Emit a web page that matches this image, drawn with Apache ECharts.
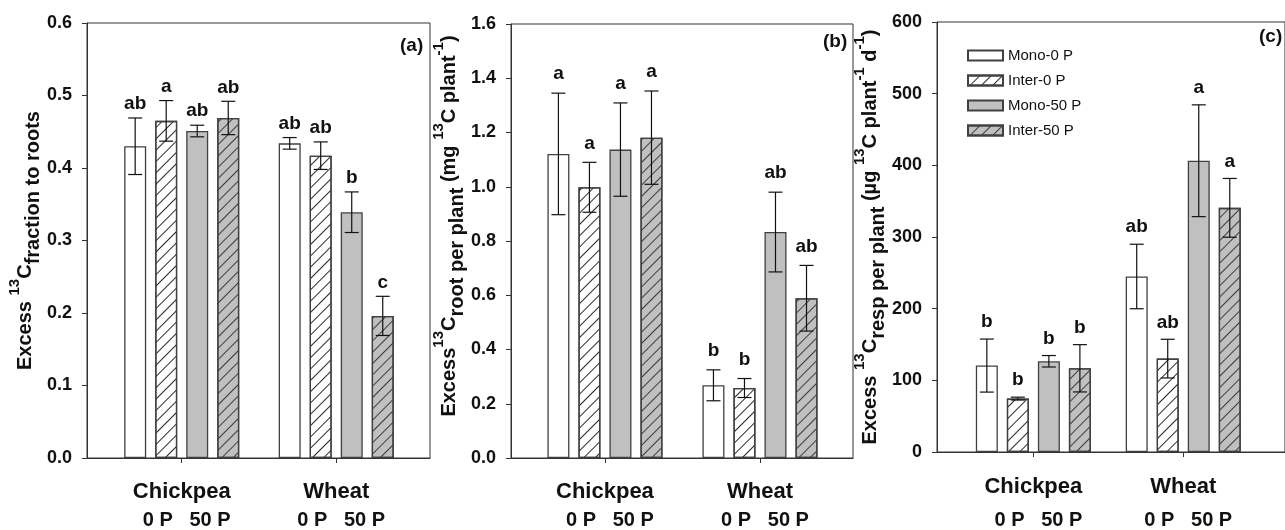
<!DOCTYPE html>
<html><head><meta charset="utf-8">
<script src="https://cdn.jsdelivr.net/npm/echarts@6/dist/echarts.min.js"></script>
<style>html,body{margin:0;padding:0;background:#fff}#c{width:1285px;height:530px}</style>
</head><body><div id="c"></div>
<script>
// ---------- data ----------
const categories = ['Chickpea', 'Wheat'];
const subLabel = '0 P   50 P';
const seriesNames = ['Mono-0 P', 'Inter-0 P', 'Mono-50 P', 'Inter-50 P'];
const panelTags = ['(a)', '(b)', '(c)'];

// (a) Excess 13C fraction to roots; rows = series, cols = [Chickpea, Wheat]
const fracMean = [[0.430, 0.434], [0.465, 0.417], [0.451, 0.339], [0.469, 0.196]];
const fracErr = [[0.039, 0.008], [0.028, 0.019], [0.008, 0.028], [0.023, 0.027]];
const fracLetters = [['ab', 'ab'], ['a', 'ab'], ['ab', 'b'], ['ab', 'c']];

// (b) Excess 13C root per plant (mg 13C plant-1)
const rootMean = [[1.121, 0.268], [0.998, 0.258], [1.137, 0.833], [1.181, 0.589]];
const rootErr = [[0.224, 0.057], [0.092, 0.035], [0.172, 0.147], [0.172, 0.121]];
const rootLetters = [['a', 'b'], ['a', 'b'], ['a', 'ab'], ['a', 'ab']];

// (c) Excess 13C resp per plant (ug 13C plant-1 d-1)
const respMean = [[120.6, 244.9], [74.5, 130.3], [126.6, 406.4], [116.8, 340.7]];
const respErr = [[37, 45], [2, 27], [8, 78], [33, 41]];
const respLetters = [['b', 'ab'], ['b', 'ab'], ['b', 'a'], ['b', 'a']];

// axis scales
const yMax = [0.6, 1.6, 600];
const yStep = [0.1, 0.2, 100];
const yDecimals = [1, 1, 0];

const yTitles = [
  '{n|Excess }{p|13}{n|C}{b|fraction to roots}',
  '{n|Excess}{p|13}{n|C}{b|root per plant}{n| (mg }{p|13}{n|C plant}{p|-1}{n|)}',
  '{n|Excess }{p|13}{n|C}{b|resp per plant}{n| (\u00b5g }{p|13}{n|C plant}{p|-1}{n| d}{p|-1}{n|)}'
];

// ---------- layout / style ----------
const FONT = '"Liberation Sans", Arial, sans-serif';
const grids = [
  {left: 87, top: 23, width: 343, height: 436},
  {left: 511, top: 24, width: 342, height: 434},
  {left: 937, top: 22, width: 360, height: 434}
];
const xRange = [[-0.613, 1.607], [-0.606, 1.6], [-0.643, 1.679]];
const nameGaps = [43, 44, 40];
const namePads = [[0, 0, 0, 0], [0, 0, 0, 30], [0, 0, 0, 0]];
const letterOffset = [14, 19, 17];
const BAR_W = 22, BAR_GAP = 0.41, CAP = 14;
const BAR_STEP = BAR_W * (1 + BAR_GAP);

const hatch = (c) => ({symbol: 'rect', symbolSize: 1, dashArrayX: [1, 0], dashArrayY: [1, 7], rotation: -Math.PI / 4, color: c});
const barStyles = [
  {color: '#ffffff'},
  {color: '#ffffff', decal: hatch('#2a2a2a')},
  {color: '#c0c0c0'},
  {color: '#c0c0c0', decal: hatch('#3a3a3a')}
];

const panels = [
  {mean: fracMean, err: fracErr, letters: fracLetters},
  {mean: rootMean, err: rootErr, letters: rootLetters},
  {mean: respMean, err: respErr, letters: respLetters}
];

const xRich = [
  {t: {fontSize: 22, fontWeight: 'bold', lineHeight: 28, fontFamily: FONT, color: '#111'},
   s: {fontSize: 20, fontWeight: 'bold', lineHeight: 28, fontFamily: FONT, color: '#111', padding: [0, 0, 0, 10]}},
  {t: {fontSize: 22, fontWeight: 'bold', lineHeight: 28, fontFamily: FONT, color: '#111'},
   s: {fontSize: 20, fontWeight: 'bold', lineHeight: 28, fontFamily: FONT, color: '#111', padding: [0, 0, 0, 10]}},
  {t: {fontSize: 22, fontWeight: 'bold', lineHeight: 30, fontFamily: FONT, color: '#111'},
   s: {fontSize: 20, fontWeight: 'bold', lineHeight: 36, fontFamily: FONT, color: '#111', padding: [0, 0, 0, 10]}}
];
const xMargins = [20, 20, 20];

const nameRich = {
  n: {fontSize: 20, fontWeight: 'bold', lineHeight: 36, verticalAlign: 'middle', fontFamily: FONT, color: '#111'},
  p: {fontSize: 15, fontWeight: 'bold', lineHeight: 19, verticalAlign: 'top', fontFamily: FONT, color: '#111'},
  b: {fontSize: 20, fontWeight: 'bold', lineHeight: 20, verticalAlign: 'bottom', fontFamily: FONT, color: '#111'}
};

const xAxes = [], yAxes = [], series = [], titles = [];
panels.forEach((p, i) => {
  xAxes.push({
    type: 'value', gridIndex: i, min: xRange[i][0], max: xRange[i][1],
    splitLine: {show: false},
    axisLine: {show: true, onZero: false, lineStyle: {color: '#333', width: 1}},
    axisTick: {show: true, length: 5, customValues: [0, 1], lineStyle: {color: '#333'}},
    axisLabel: {
      customValues: [0, 1], margin: xMargins[i],
      formatter: (v) => '{t|' + categories[Math.round(v)] + '}\n{s|' + subLabel + '}',
      rich: xRich[i]
    }
  });
  yAxes.push({
    type: 'value', gridIndex: i, min: 0, max: yMax[i], interval: yStep[i],
    splitLine: {show: false},
    axisLine: {show: true, onZero: false, lineStyle: {color: '#333', width: 1}},
    axisTick: {show: true, length: 5, inside: false, lineStyle: {color: '#333'}},
    axisLabel: {
      margin: 15, fontSize: 18, fontWeight: 'bold', fontFamily: FONT, color: '#111',
      formatter: (v) => v.toFixed(yDecimals[i])
    },
    name: yTitles[i], nameLocation: 'middle', nameGap: nameGaps[i],
    nameTextStyle: {rich: nameRich, padding: namePads[i]}
  });
  seriesNames.forEach((nm, k) => {
    series.push({
      type: 'bar', name: nm, xAxisIndex: i, yAxisIndex: i,
      barWidth: BAR_W, barGap: (BAR_GAP * 100) + '%',
      itemStyle: Object.assign({borderColor: '#404040', borderWidth: 1.3}, barStyles[k]),
      data: categories.map((c, ci) => [ci, p.mean[k][ci]])
    });
  });
  const errData = [], letterList = [];
  seriesNames.forEach((nm, k) => {
    categories.forEach((c, ci) => {
      errData.push([ci, p.mean[k][ci], p.err[k][ci], k]);
      letterList.push(p.letters[k][ci]);
    });
  });
  series.push({
    type: 'custom', xAxisIndex: i, yAxisIndex: i, z: 5,
    data: errData,
    renderItem: (params, api) => {
      const c = api.value(0), m = api.value(1), e = api.value(2), k = api.value(3);
      const base = api.coord([c, m]);
      const x = base[0] + (k - 1.5) * BAR_STEP;
      const yT = api.coord([c, m + e])[1];
      const yB = api.coord([c, m - e])[1];
      const hw = CAP / 2;
      const ls = {stroke: '#111', lineWidth: 1.2};
      return {type: 'group', children: [
        {type: 'line', shape: {x1: x, y1: yT, x2: x, y2: yB}, style: ls},
        {type: 'line', shape: {x1: x - hw, y1: yT, x2: x + hw, y2: yT}, style: ls},
        {type: 'line', shape: {x1: x - hw, y1: yB, x2: x + hw, y2: yB}, style: ls},
        {type: 'text', x: x, y: yT - letterOffset[i], style: {
          text: letterList[params.dataIndex], align: 'center', verticalAlign: 'middle',
          font: 'bold 19px ' + FONT, fill: '#111'}}
      ]};
    }
  });
});

const tagPos = [{left: 400, top: 36}, {left: 823, top: 32}, {left: 1259, top: 27}];
panelTags.forEach((t, i) => titles.push({
  text: t, left: tagPos[i].left, top: tagPos[i].top, padding: 0,
  textStyle: {fontSize: 19, fontWeight: 'bold', fontFamily: FONT, color: '#111'}
}));

const chart = echarts.init(document.getElementById('c'), null, {renderer: 'canvas'});
chart.setOption({
  animation: false,
  backgroundColor: '#fff',
  title: titles,
  grid: grids.map(g => Object.assign({show: true, borderColor: '#333', borderWidth: 1, backgroundColor: 'transparent'}, g)),
  legend: {
    data: seriesNames, orient: 'vertical', left: 967, top: 48, padding: 0,
    icon: 'rect', itemWidth: 35, itemHeight: 10, itemGap: 10,
    textStyle: {fontSize: 15, fontFamily: FONT, color: '#111'}
  },
  xAxis: xAxes,
  yAxis: yAxes,
  series: series
});
</script></body></html>
